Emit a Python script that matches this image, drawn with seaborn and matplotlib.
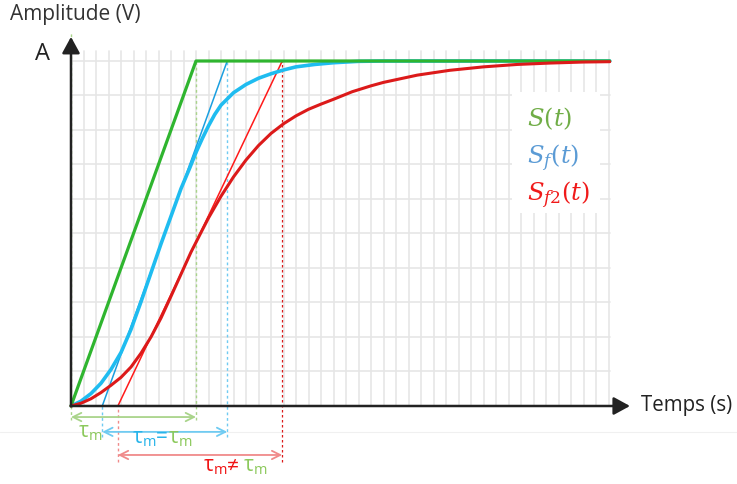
import matplotlib.pyplot as plt
import matplotlib.patches as mpatches
import seaborn as sns

# unités : 1 carreau de grille en abscisse, amplitude A = 1
t_s = [0, 10, 43.1]
s_s = [0, 1, 1]

t_sf = [0, 0.8, 1.6, 2.4, 3.2, 4.0, 4.8, 5.6, 6.4, 7.2, 8.0, 8.8, 9.5, 10.0,
        10.5, 11.0, 11.5, 12.0, 13.0, 14.0, 15.0, 16.0, 17.0, 18.0, 19.5, 21.0,
        23.0, 25.0, 43.1]
s_sf = [0, 0.014, 0.036, 0.066, 0.106, 0.155, 0.222, 0.302, 0.386, 0.47, 0.55,
        0.63, 0.69, 0.735, 0.775, 0.812, 0.845, 0.872, 0.908, 0.932, 0.95, 0.963,
        0.974, 0.983, 0.99, 0.995, 0.999, 1.0, 1.0]

t_sf2 = [0, 0.8, 1.6, 2.4, 3.2, 4.0, 4.8, 5.6, 6.4, 7.2, 8.0, 8.8, 9.6, 10.5,
         11.0, 12.0, 13.0, 14.0, 15.0, 16.0, 17.0, 18.0, 19.0, 20.0, 21.0, 22.5,
         24.0, 25.0, 27.7, 30.3, 33.0, 35.7, 38.3, 41.0, 43.1]
s_sf2 = [0, 0.008, 0.021, 0.039, 0.06, 0.083, 0.113, 0.153, 0.2, 0.255, 0.318,
         0.382, 0.446, 0.51, 0.545, 0.608, 0.664, 0.713, 0.755, 0.79, 0.818,
         0.841, 0.86, 0.875, 0.889, 0.911, 0.928, 0.938, 0.959, 0.973, 0.983,
         0.99, 0.994, 0.997, 0.998]

# tangentes de pente A/tau_m
t_tan_sf = [2.5, 12.5]
t_tan_sf2 = [3.75, 16.9]
y_tan = [0, 1]

tau_s, tau_sf, tau_sf2 = 10, 12.5, 16.9
start_sf, start_sf2 = 2.5, 3.75

grid_x = list(range(1, 44))
grid_y = [0.1, 0.2, 0.3, 0.4, 0.5, 0.6, 0.7, 0.8, 0.9, 1.0]

GREEN, BLUE, RED = '#2fb52f', '#1fbcf0', '#dc1a1a'
LGREEN, LBLUE, LRED = '#a9d48a', '#6fcbf2', '#f08a8a'
TGREEN, TBLUE, TRED = '#8cc95c', '#27b4ea', '#f01515'

sns.set_theme(style='white')
plt.rcParams['font.family'] = ['Open Sans', 'DejaVu Sans']
plt.rcParams['mathtext.fontset'] = 'custom'
plt.rcParams['mathtext.rm'] = 'DejaVu Serif'
plt.rcParams['mathtext.it'] = 'DejaVu Serif:italic'
plt.rcParams['mathtext.sf'] = 'Open Sans'

fig = plt.figure(figsize=(7.37, 4.84), dpi=100)
ax = fig.add_axes([0, 0, 1, 1])
ax.set_xlim(-5.68, 53.28)
ax.set_ylim(-0.2261, 1.1768)
ax.axis('off')

# grille
for gx in grid_x:
    ax.plot([gx, gx], [0, 1.03], color='#e6e6e6', lw=1.2, zorder=1)
for gy in grid_y:
    ax.plot([0, 43.1], [gy, gy], color='#e6e6e6', lw=1.2, zorder=1)
ax.axhline(-0.075, color='#f0f0f0', lw=0.8, zorder=0)

# cadre blanc de la légende
ax.add_patch(mpatches.Rectangle((35.3, 0.56), 7.0, 0.35, facecolor='white',
                                edgecolor='none', zorder=2))

# tirets verticaux
ax.vlines(0, -0.041, 1.08, color=LGREEN, lw=1, ls=(0, (2, 2)), zorder=2)
ax.vlines(tau_s, -0.041, 1, color=LGREEN, lw=1, ls=(0, (2, 2)), zorder=2)
ax.vlines(tau_sf, -0.09, 1, color=LBLUE, lw=1, ls=(0, (2, 2)), zorder=2)
ax.vlines(start_sf, -0.09, 0, color=LBLUE, lw=1, ls=(0, (2, 2)), zorder=2)
ax.vlines(tau_sf2, -0.162, 1, color=RED, lw=0.9, ls=(0, (2, 2)), zorder=2)
ax.vlines(start_sf2, -0.162, 0, color=LRED, lw=1, ls=(0, (2, 2)), zorder=2)

# tangentes
sns.lineplot(x=t_tan_sf, y=y_tan, ax=ax, color='#1a9fe0', lw=1.1, zorder=3)
sns.lineplot(x=t_tan_sf2, y=y_tan, ax=ax, color='#ff1a1a', lw=1.1, zorder=3)

# signaux
sns.lineplot(x=t_sf, y=s_sf, ax=ax, color=BLUE, lw=2.6, zorder=4)
sns.lineplot(x=t_s, y=s_s, ax=ax, color=GREEN, lw=2.3, zorder=5)
sns.lineplot(x=t_sf2, y=s_sf2, ax=ax, color=RED, lw=2.2, zorder=6)

# axes avec flèches
axis_arrow = dict(arrowstyle='-|>,head_length=0.55,head_width=0.3', color='#222222',
                  lw=1.8, shrinkA=0, shrinkB=0, mutation_scale=18)
ax.annotate('', xy=(0, 1.07), xytext=(0, 0), arrowprops=axis_arrow, zorder=7)
ax.annotate('', xy=(44.72, 0), xytext=(0, 0), arrowprops=axis_arrow, zorder=7)

ax.text(-4.88, 1.119, 'Amplitude (V)', fontsize=15, color='#333333',
        ha='left', va='baseline')
ax.text(-2.3, 1.02, 'A', fontsize=17, color='#222222', ha='center', va='center')
ax.text(45.6, 0.0, 'Temps (s)', fontsize=14.8, color='#222222', ha='left', va='center')

# légende
ax.text(36.5, 0.81, r'$S(t)$', fontsize=17.5, color='#70ad47', va='baseline')
ax.text(36.5, 0.70, r'$S_f(t)$', fontsize=17.5, color='#5b9bd5', va='baseline')
ax.text(36.5, 0.594, r'$S_{f2}(t)$', fontsize=17.5, color='#f01a1a', va='baseline')


# doubles flèches tau_m
def double_arrow(x0, x1, y, color):
    ax.annotate('', xy=(x1, y), xytext=(x0, y),
                arrowprops=dict(arrowstyle='<->,head_length=0.6,head_width=0.3',
                                color=color, lw=1.3, shrinkA=0, shrinkB=0,
                                mutation_scale=10))


double_arrow(0, tau_s, -0.032, LGREEN)
double_arrow(start_sf, tau_sf, -0.075, LBLUE)
double_arrow(start_sf2, tau_sf2, -0.142, LRED)

renderer = fig.canvas.get_renderer()


def label_pieces(x, y, pieces, size=15):
    # morceaux de texte colorés posés les uns à la suite des autres
    for txt, color, gap in pieces:
        t = ax.text(x, y, txt, fontsize=size, color=color, ha='left', va='baseline')
        bb = t.get_window_extent(renderer)
        x = ax.transData.inverted().transform((bb.x1 + gap, bb.y0))[0]


tau_lbl = r'$\mathsf{\tau_m}$'
label_pieces(0.55, -0.09, [(tau_lbl, TGREEN, 0)])
label_pieces(4.88, -0.107, [(tau_lbl, TBLUE, 0), ('=', TBLUE, 0), (tau_lbl, TGREEN, 0)])
label_pieces(10.56, -0.19, [(tau_lbl, TRED, 0), ('≠', TRED, 4), (tau_lbl, TGREEN, 0)])

fig.savefig('out.png', dpi=100, facecolor='white')
